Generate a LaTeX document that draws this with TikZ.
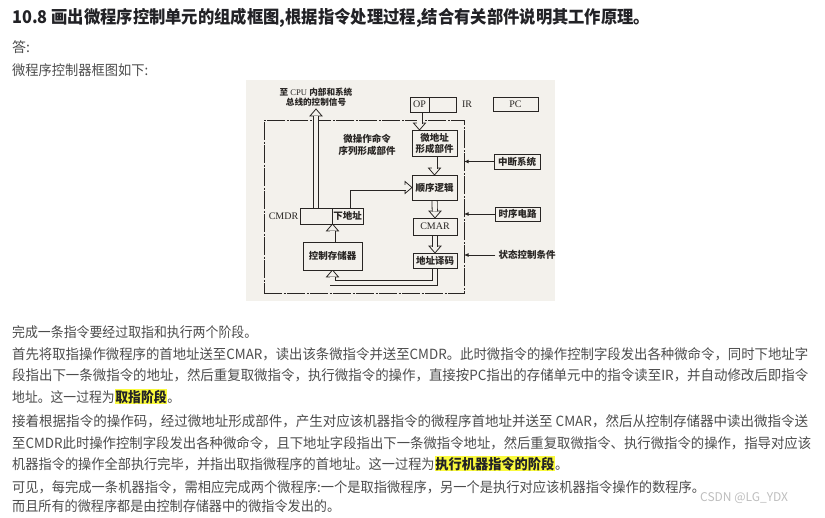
\documentclass[tikz,border=0pt]{standalone}
\usepackage{fontspec}
\usepackage{graphicx}
\setmainfont{Liberation Serif}
\newfontfamily\cjk{Noto Sans CJK SC}
\usetikzlibrary{arrows.meta,calc}
\definecolor{paper}{RGB}{243,241,236}
\definecolor{ink}{RGB}{40,37,35}
\definecolor{txt}{RGB}{77,77,77}
\definecolor{ttl}{RGB}{34,34,38}
\definecolor{hl}{RGB}{250,250,60}
\definecolor{wm}{RGB}{190,190,190}
\pgfdeclarelayer{bg}
\pgfsetlayers{bg,main}
\newcommand\fitw[2]{\resizebox{#1}{\height}{#2}}
\newcommand\hlt[1]{{\setlength{\fboxsep}{0.8pt}\colorbox{hl}{\bfseries\color{ttl}#1}}}
\newcommand\zh[1]{{\cjk\bfseries #1}}
% hollow arrow heads (y axis points down)
\newcommand\headdown[1]{\filldraw[hd] (#1) -- ++(-6,-7) -- ++(12,0) -- cycle;}
\newcommand\headup[1]{\filldraw[hd] (#1) -- ++(-6,7) -- ++(12,0) -- cycle;}
\newcommand\headright[1]{\filldraw[hd] (#1) -- ++(-7,-6) -- ++(0,12) -- cycle;}
\begin{document}
\begin{tikzpicture}[x=1pt,y=-1pt,
  ln/.style={anchor=west, inner sep=0pt, text=txt, font=\cjk\fontsize{14}{16}\selectfont, text height=12pt, text depth=2pt},
  ttlf/.style={anchor=west, inner sep=0pt, text=ttl, font=\cjk\bfseries\fontsize{17.5}{20}\selectfont},
  box/.style={draw=ink, line width=0.9pt, fill=paper, inner sep=0pt, outer sep=0pt, text=ink, font=\cjk\bfseries\fontsize{9.5}{11}\selectfont, align=center},
  latbox/.style={box, font=\fontsize{10}{12}\selectfont},
  lbl/.style={inner sep=0pt, text=ink, font=\cjk\bfseries\fontsize{9.5}{11.5}\selectfont, align=center},
  latlbl/.style={inner sep=0pt, text=ink, font=\fontsize{10}{12}\selectfont},
  outerbox/.style={draw=ink, line width=0.8pt, dash pattern=on 18pt off 1.5pt on 2pt off 1.5pt, minimum width=200pt, minimum height=173pt, inner sep=0pt, outer sep=0pt},
  shaft/.style={draw=ink, line width=0.8pt, double=paper, double distance=4.4pt, shorten >=6.5pt},
  hd/.style={draw=ink, fill=paper, line width=0.8pt, line join=miter},
  sarrow/.style={draw=ink, line width=0.7pt, -{Latex[length=4.5pt,width=3.8pt]}},
]
\useasboundingbox (0,0) rectangle (825,517);
\begin{pgfonlayer}{bg}
  \fill[white] (0,0) rectangle (825,517);
  \fill[paper] (246,80) rectangle (555,301);
\end{pgfonlayer}

% ---------- page text ----------
\node[ttlf] (t0) at (12,18) {\fitw{638pt}{10.8 画出微程序控制单元的组成框图,根据指令处理过程,结合有关部件说明其工作原理。}};
\node[ln] (t1) at (12,47) {答:};
\node[ln] (t2) at (12,70) {\fitw{136pt}{微程序控制器框图如下:}};
\node[ln] (p1) at (12,332) {\fitw{245pt}{完成一条指令要经过取指和执行两个阶段。}};
\node[ln] (p2) at (12,354) {\fitw{796pt}{首先将取指操作微程序的首地址送至CMAR，读出该条微指令并送至CMDR。此时微指令的操作控制字段发出各种微命令，同时下地址字}};
\node[ln] (p3) at (12,375) {\fitw{796pt}{段指出下一条微指令的地址，然后重复取微指令，执行微指令的操作，直接按PC指出的存储单元中的指令读至IR，并自动修改后即指令}};
\node[ln] (p4) at (12,397) {\fitw{168pt}{地址。这一过程为\hlt{取指阶段}。}};
\node[ln] (p5) at (12,421) {\fitw{796pt}{接着根据指令的操作码，经过微地址形成部件，产生对应该机器指令的微程序首地址并送至 CMAR，然后从控制存储器中读出微指令送}};
\node[ln] (p6) at (12,443) {\fitw{799pt}{至CMDR此时操作控制字段发出各种微命令，且下地址字段指出下一条微指令地址，然后重复取微指令、执行微指令的操作，指导对应该}};
\node[ln] (p7) at (12,464) {\fitw{556pt}{机器指令的操作全部执行完毕，并指出取指微程序的首地址。这一过程为\hlt{执行机器指令的阶段}。}};
\node[ln] (p8) at (12,487) {\fitw{693pt}{可见，每完成一条机器指令，需相应完成两个微程序:一个是取指微程序，另一个是执行对应该机器指令操作的数程序。}};
\node[ln] (p9) at (12,506) {\fitw{328pt}{而且所有的微程序都是由控制存储器中的微指令发出的。}};
\node[anchor=west, inner sep=0pt, text=wm, font=\cjk\fontsize{12}{14}\selectfont] (wmk) at (700,498) {CSDN @LG\_YDX};

% ---------- diagram ----------
\begin{pgfonlayer}{bg}
  \node[outerbox] (ob) at (364,206.5) {};
\end{pgfonlayer}

\node[inner sep=0pt, text=ink, align=center, font=\fontsize{8.6}{10.5}\selectfont] (cpu) at (316,97)
  {\zh{至} CPU \zh{内部和系统}\\ \zh{总线的控制信号}};
\node[lbl] (wcz) at (367,145) {微操作命令\\序列形成部件};

\node[latbox, minimum width=19pt, minimum height=15pt] (op) at (419.5,104.5) {OP};
\node[box, minimum width=27pt, minimum height=15pt] (irb) at (442.5,104.5) {};
\node[latlbl] (irl) at (467,104.5) {IR};
\node[latbox, minimum width=45pt, minimum height=14pt] (pc) at (515.5,104) {PC};

\node[box, minimum width=45pt, minimum height=26pt] (wd) at (434.5,143) {微地址\\形成部件};
\node[box, minimum width=45pt, minimum height=25pt] (sx) at (434.5,187.5) {顺序逻辑};
\node[latbox, minimum width=44pt, minimum height=17pt] (cm) at (435,226.5) {CMAR};
\node[box, minimum width=44pt, minimum height=15pt] (dz) at (435,260.5) {地址译码};

\node[latlbl] (cmdrl) at (283.5,216.5) {CMDR};
\node[box, minimum width=32pt, minimum height=16pt] (cl) at (316,216) {};
\node[box, minimum width=31pt, minimum height=16pt] (xd) at (347.5,216) {下地址};
\node[box, minimum width=59pt, minimum height=28pt] (kz) at (332.5,256) {控制存储器};

\node[box, minimum width=46pt, minimum height=15pt] (zd) at (517,161.5) {中断系统};
\node[box, minimum width=45pt, minimum height=14pt] (sd) at (517.5,214) {时序电路};
\node[lbl] (zt) at (527,255) {状态控制条件};

\coordinate (upend) at (316,109);

\begin{pgfonlayer}{bg}
  % hollow arrow heads
  \headup{cl.north |- upend}
  \headdown{op.south |- wd.north}
  \headdown{sx.north}
  \headdown{cm.north}
  \headdown{dz.north}
  \headup{kz.north |- cl.south}
  \headright{sx.west}
  \headup{kz.south}
  % hollow arrow shafts
  \draw[shaft] (cl.north) -- (cl.north |- upend);
  \draw[shaft] (op.south) -- (op.south |- wd.north);
  \draw[shaft] (wd.south) -- (sx.north);
  \draw[shaft] (sx.south) -- (cm.north);
  \draw[shaft] (cm.south) -- (dz.north);
  \draw[shaft] (kz.north) -- (kz.north |- cl.south);
  \draw[shaft] (xd.north) |- (sx.west);
  \draw[shaft] (dz.south) -- ++(0,15) -| (kz.south);
\end{pgfonlayer}

% single arrows into the control unit
\draw[sarrow] (zd.west) -- (zd.west -| ob.east);
\draw[sarrow] (sd.west) -- (sd.west -| ob.east);
\draw[sarrow] ($(zt.west)+(-3,0)$) -- (zt.west -| ob.east);
\end{tikzpicture}
\end{document}
